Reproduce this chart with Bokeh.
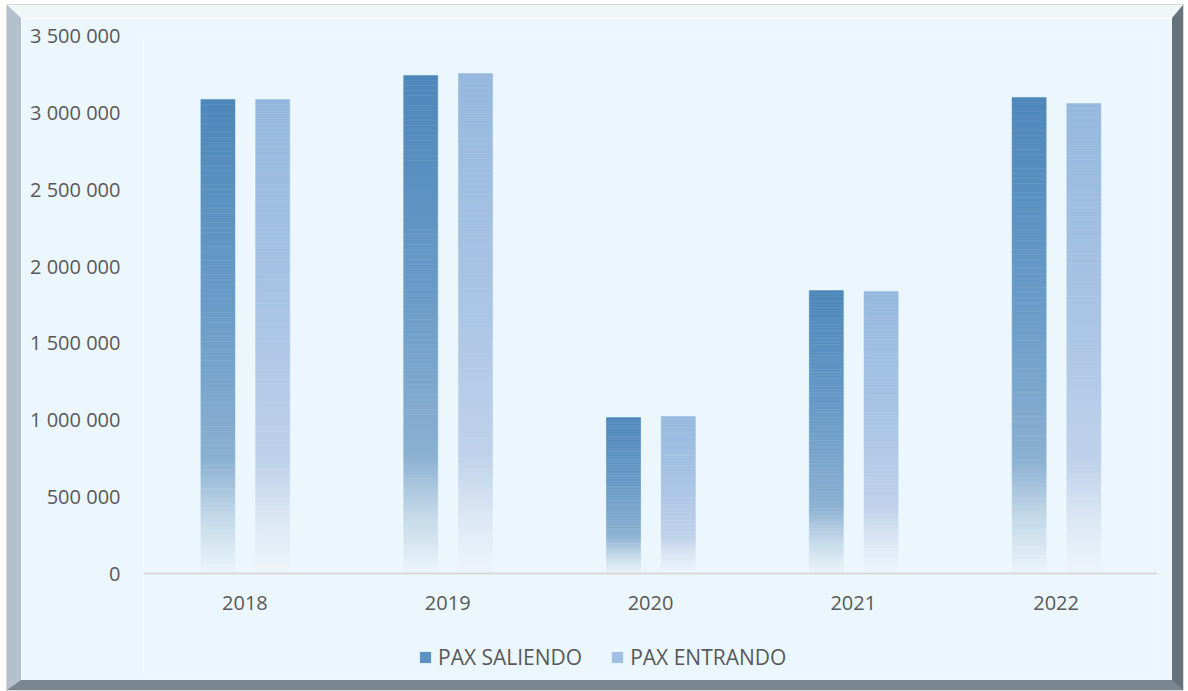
from bokeh.plotting import figure
from bokeh.models import (ColumnDataSource, FactorRange, Range1d, FixedTicker,
                          CustomJSTickFormatter, Legend, LegendItem)
from bokeh.transform import dodge
from bokeh.embed import file_html
from bokeh.resources import INLINE

# ---------------- data ----------------
years = ["2018", "2019", "2020", "2021", "2022"]
pax_saliendo = [3084000, 3240000, 1015000, 1841000, 3097000]
pax_entrando = [3084000, 3253000, 1021000, 1835000, 3058000]
series_names = ["PAX SALIENDO", "PAX ENTRANDO"]
y_ticks = [0, 500000, 1000000, 1500000, 2000000, 2500000, 3000000, 3500000]
Y_MAX = 3500000

# gradient stops (fraction from top of bar, colour)
grad_saliendo = [(0.0, "#4E87BA"), (0.45, "#6A9CC8"), (0.76, "#8BB0D1"),
                 (0.88, "#C3D8E8"), (1.0, "#EBF5FA")]
grad_entrando = [(0.0, "#96B8DE"), (0.45, "#A9C4E4"), (0.76, "#BFD1EA"),
                 (0.88, "#DAE6F3"), (1.0, "#EEF6FB")]

BG = "#EBF7FD"
TXT = "#595959"
FONT = "Open Sans"

# layout (pixels)
PLOT_H = 538          # height from value 0 to Y_MAX
BELOW_ZERO = 100      # extra frame below the zero line (axis labels + legend)


def hex2rgb(h):
    h = h.lstrip("#")
    return tuple(int(h[i:i + 2], 16) for i in (0, 2, 4))


def grad_color(stops, f):
    for (f0, c0), (f1, c1) in zip(stops[:-1], stops[1:]):
        if f0 <= f <= f1:
            t = 0 if f1 == f0 else (f - f0) / (f1 - f0)
            a, b = hex2rgb(c0), hex2rgb(c1)
            r = [round(a[i] + (b[i] - a[i]) * t) for i in range(3)]
            return "#%02x%02x%02x" % tuple(r)
    return stops[-1][1]


def slices(vals, stops, n=100):
    xs, bots, tops, cols = [], [], [], []
    for yr, v in zip(years, vals):
        for k in range(n):
            b = v * k / n
            t = v * (k + 1) / n
            f = 1 - (k + 0.5) / n  # 0 at top, 1 at bottom
            xs.append(yr)
            bots.append(b)
            tops.append(t)
            cols.append(grad_color(stops, f))
    return ColumnDataSource(dict(x=xs, bottom=bots, top=tops, color=cols))


y_start = -Y_MAX * BELOW_ZERO / PLOT_H

p = figure(x_range=FactorRange(*years), y_range=Range1d(y_start, Y_MAX),
           width=1176, height=685, output_backend="svg", toolbar_location=None,
           min_border_left=122, min_border_right=40, min_border_top=17,
           min_border_bottom=30)

p.background_fill_color = BG
p.border_fill_color = BG
p.outline_line_color = None
p.xgrid.grid_line_color = None
p.ygrid.grid_line_color = None
p.x_range.range_padding = 0

src_s = slices(pax_saliendo, grad_saliendo)
src_e = slices(pax_entrando, grad_entrando)

bw = 0.168
p.vbar(x=dodge("x", -0.133, range=p.x_range), bottom="bottom", top="top",
       width=bw, source=src_s, fill_color="color", line_color="color", line_width=0.5)
p.vbar(x=dodge("x", 0.137, range=p.x_range), bottom="bottom", top="top",
       width=bw, source=src_e, fill_color="color", line_color="color", line_width=0.5)

# legend proxies (invisible, rectangular swatches)
r1 = p.vbar(x=[years[0]], top=[0], width=0.1, fill_color="#5B92C3",
            line_color=None, visible=False)
r2 = p.vbar(x=[years[0]], top=[0], width=0.1, fill_color="#A0BFE1",
            line_color=None, visible=False)
legend = Legend(items=[LegendItem(label=series_names[0], renderers=[r1]),
                       LegendItem(label=series_names[1], renderers=[r2])],
                orientation="horizontal", location=(275, 2),
                label_text_font=FONT, label_text_font_size="21px",
                label_text_color=TXT, glyph_width=14, glyph_height=14,
                label_standoff=6, spacing=28, padding=0, margin=0,
                border_line_color=None, background_fill_alpha=0)
p.add_layout(legend, "center")

# axes
p.xaxis.fixed_location = 0
p.xaxis.axis_line_color = "#D9D9D9"
p.xaxis.axis_line_width = 2
p.xaxis.major_tick_line_color = None
p.xaxis.minor_tick_line_color = None
p.xaxis.major_label_text_font = FONT
p.xaxis.major_label_text_font_size = "20px"
p.xaxis.major_label_text_color = TXT
p.xaxis.major_label_standoff = 16

p.yaxis.axis_line_color = None
p.yaxis.major_tick_line_color = None
p.yaxis.minor_tick_line_color = None
p.yaxis.ticker = FixedTicker(ticks=y_ticks)
p.yaxis.formatter = CustomJSTickFormatter(
    code='return String(Math.round(tick)).replace(/\\B(?=(\\d{3})+(?!\\d))/g, " ");')
p.yaxis.major_label_text_font = FONT
p.yaxis.major_label_text_font_size = "20px"
p.yaxis.major_label_text_color = TXT
p.yaxis.major_label_standoff = 17

p.styles = {
    "margin-left": "7px",
    "margin-top": "5px",
    "border-top": "13px solid #F1F6F9",
    "border-left": "14px solid #B3C1CC",
    "border-right": "11px solid #67737C",
    "border-bottom": "10px solid #7B8790",
    "outline": "1px solid #DADADA",
}

open("out.html", "w").write(file_html(p, INLINE))
